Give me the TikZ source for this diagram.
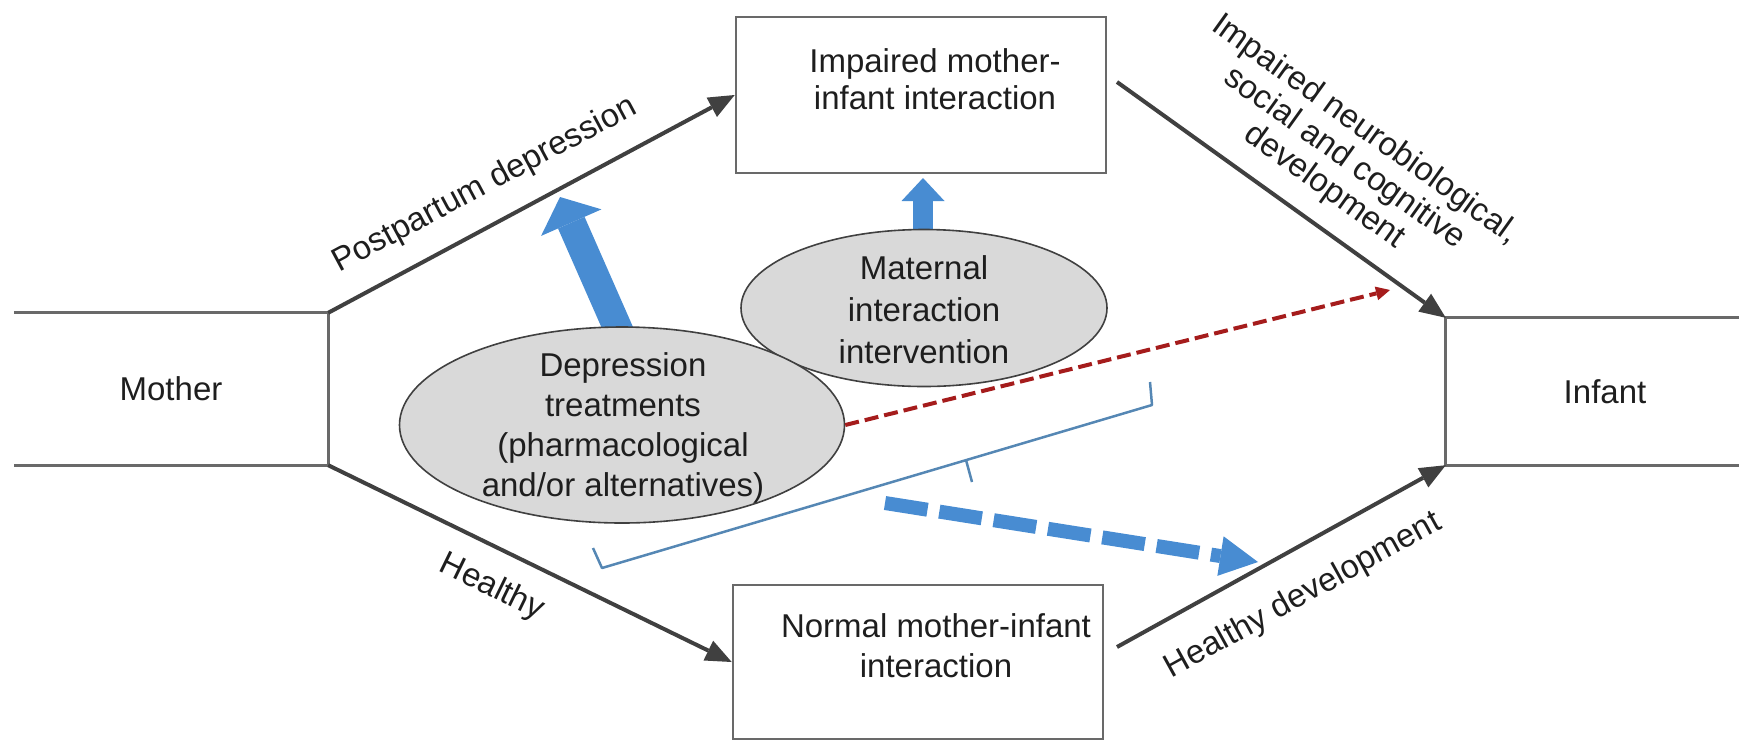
\documentclass[tikz,border=0pt]{standalone}
\usepackage{fontspec}
\setmainfont{Liberation Sans}
\usetikzlibrary{arrows.meta,shapes.geometric}
\definecolor{darkln}{RGB}{64,64,64}
\definecolor{boxln}{RGB}{105,105,105}
\definecolor{ellfill}{RGB}{217,217,217}
\definecolor{myblue}{RGB}{72,140,210}
\definecolor{myred}{RGB}{165,28,28}
\definecolor{brk}{RGB}{85,135,180}
\definecolor{txt}{RGB}{30,30,30}
\begin{document}
\begin{tikzpicture}[x=1pt,y=-1pt,
  every node/.style={text=txt, font=\fontsize{33}{41}\selectfont, inner sep=0pt},
  boxnode/.style={draw=boxln, line width=2.6pt, rectangle},
  sideln/.style={draw=boxln, line width=3pt},
  ellnode/.style={ellipse, draw=darkln, line width=1.6pt, fill=ellfill},
  mainarrow/.style={draw=darkln, line width=4pt, -{Triangle[length=26pt,width=22pt,line width=0pt]}},
  lbl/.style={sloped, align=center},
  bigblue/.style={draw=myblue, line width=29pt, -{Triangle[length=28pt,width=66pt,line width=0pt]}},
  smallblue/.style={draw=myblue, line width=20pt, -{Triangle[length=23pt,width=43pt,line width=0pt]}},
  dashblue/.style={draw=myblue, line width=14pt, dash pattern=on 43pt off 12pt, -{Triangle[length=38pt,width=40pt,line width=0pt]}},
  dashred/.style={draw=myred, line width=4pt, dash pattern=on 14pt off 6pt, -{Triangle[length=14pt,width=14pt,line width=0pt]}},
  bracketln/.style={draw=brk, line width=2.5pt, line join=round}
]
\useasboundingbox (0,0) rectangle (1739,740);
\clip (0,0) rectangle (1739,740);

% side boxes
\node[minimum width=314pt, minimum height=152pt] (mother) at (171,389) {Mother};
\draw[sideln] (mother.north west) -- (mother.north east) -- (mother.south east) -- (mother.south west);
\node[minimum width=318pt, minimum height=147pt] (infant) at (1605,391.5) {Infant};
\draw[sideln] (infant.north east) -- (infant.north west) -- (infant.south west) -- (infant.south east);

% interaction boxes
\node[boxnode, minimum width=370pt, minimum height=156pt] (imp) at (921,95) {};
\node[align=center, font=\fontsize{33}{37}\selectfont] (impt) at (935,79) {Impaired mother-\\infant interaction};
\node[boxnode, minimum width=370pt, minimum height=154pt] (norm) at (918,662) {};
\node[align=center, font=\fontsize{33}{40}\selectfont] (normt) at (936,646) {Normal mother-infant\\interaction};

% coordinates
\coordinate (idstart) at (1117,82);
\coordinate (hdstart) at (1117,647);
\coordinate (bigbase) at (622,338);
\coordinate (bigtip) at (560,197);
\coordinate (smbase) at (923,240);
\coordinate (smtip) at (923,178);
\coordinate (redtip) at (1390,290);
\coordinate (bdstart) at (885,503);
\coordinate (bdtip) at (1258,562);
\coordinate (brR) at (1150,382);
\coordinate (brRc) at (1152,405);
\coordinate (brLc) at (602,568);
\coordinate (brL) at (593,548);
\coordinate (brM) at (966,460);
\coordinate (brMt) at (972,482);

% main arrows
\draw[mainarrow] (mother.north east) -- node[lbl, pos=0.43, above=21pt] {Postpartum depression} (imp.west);
\draw[mainarrow] (mother.south east) -- node[lbl, pos=0.447, below=21pt] {Healthy} (norm.west);
\draw[mainarrow] (idstart) -- node[lbl, pos=0.567, above=18pt, font=\fontsize{33}{35}\selectfont] {Impaired neurobiological,\\social and cognitive\\development} (infant.north west);
\draw[mainarrow] (hdstart) -- node[lbl, pos=0.5, below=28pt] {Healthy development} (infant.south west);

% blue block arrows
\draw[bigblue] (bigbase) -- (bigtip);
\draw[smallblue] (smbase) -- (smtip);

% ellipses
\node[ellnode, minimum width=366pt, minimum height=157pt] (mat) at (924,308) {};
\node[align=center, font=\fontsize{33}{42}\selectfont] (matt) at (924,310) {Maternal\\interaction\\intervention};
\node[ellnode, minimum width=445pt, minimum height=196pt] (dep) at (622,425) {};
\node[align=center, font=\fontsize{33}{40}\selectfont] (dept) at (623,428) {Depression\\treatments\\(pharmacological\\and/or alternatives)};

% dashed arrows and bracket
\draw[dashred] (dep.east) -- (redtip);
\draw[bracketln] (brR) -- (brRc) -- (brLc) -- (brL);
\draw[bracketln] (brM) -- (brMt);
\draw[dashblue] (bdstart) -- (bdtip);
\end{tikzpicture}
\end{document}
